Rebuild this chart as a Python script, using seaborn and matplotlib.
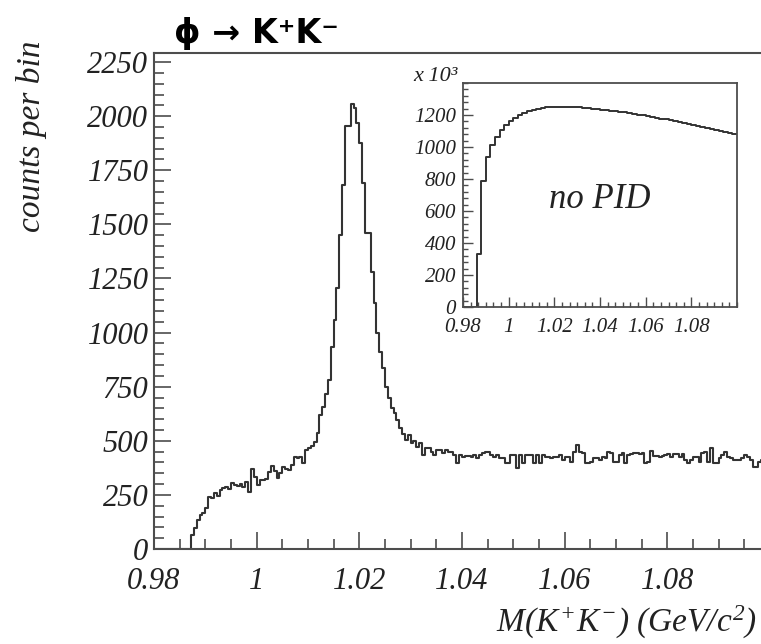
import numpy as np
import pandas as pd
import matplotlib
matplotlib.use("Agg")
import matplotlib.pyplot as plt
import seaborn as sns
from matplotlib.ticker import FixedLocator, MultipleLocator

# ---------------- data ----------------
# main histogram: 216 bins between 0.98 and 1.10 GeV
main_range = (0.98, 1.10)
main_nbins = 216
counts_below = [0] * 13
counts_rise = [65, 96, 134, 157, 168, 188, 242, 235, 259, 245,
               272, 282, 285, 276, 303, 296, 291, 299, 285, 311,
               265, 368, 334, 296, 319, 319, 325, 357, 383, 362,
               327, 350, 377, 368, 365, 388, 424, 422, 426, 396,
               457, 465, 476, 496, 534, 619, 657, 716]
counts_peak = [781, 935, 1058, 1204, 1451, 1682, 1954, 1954, 2055, 2040,
               1970, 1874, 1690, 1458, 1458, 1281, 1135, 997, 912, 835,
               750, 696, 650, 627, 596, 558]
counts_tail_a = [530, 505, 525, 490, 500, 470]
counts_tail_b = [488, 434, 465, 465, 446, 434, 457, 457, 442, 457,
                 450, 450, 434, 396, 434, 427, 430, 430, 427, 434,
                 419, 434, 442, 450, 450, 434, 427, 434, 419, 419,
                 396, 396, 434, 434, 373, 434, 396, 434, 434, 434,
                 396, 434, 396, 434, 427, 427, 419, 427, 427, 434,
                 411, 427, 427, 404, 450, 481, 450, 442, 396, 396]
counts_tail_c = [404, 419, 419, 411, 427, 419, 450, 442, 404, 404,
                 434, 442, 396, 434, 439, 442, 442, 439, 445, 396,
                 404, 454, 430, 430, 427, 430, 434, 439, 427, 439,
                 439, 427, 439, 411, 396, 411, 427, 427, 404, 442,
                 450, 404, 465, 396, 396, 419, 434, 450, 427, 419,
                 411, 411, 411, 419, 434, 427, 411, 380, 380, 404]
counts_tail_d = [410, 425, 415]

# inset histogram (no PID), units of 10^3, 60 bins between 0.98 and 1.10
inset_range = (0.98, 1.10)
inset_counts = [0, 0, 0, 330, 790, 940, 1015, 1065, 1105, 1135,
                1160, 1180, 1197, 1211, 1223, 1232, 1239, 1245, 1249, 1251,
                1252, 1253, 1252, 1251, 1250, 1248, 1246, 1243, 1240, 1237,
                1234, 1231, 1228, 1225, 1220, 1216, 1212, 1208, 1203, 1198,
                1194, 1189, 1183, 1178, 1172, 1166, 1160, 1154, 1148, 1142,
                1136, 1130, 1124, 1118, 1112, 1106, 1100, 1094, 1088, 1082]

main_xticks = [0.98, 1.00, 1.02, 1.04, 1.06, 1.08]
main_xticklabels = ["0.98", "1", "1.02", "1.04", "1.06", "1.08"]
main_yticks = [0, 250, 500, 750, 1000, 1250, 1500, 1750, 2000, 2250]
inset_xticks = [0.98, 1.00, 1.02, 1.04, 1.06, 1.08]
inset_xticklabels = ["0.98", "1", "1.02", "1.04", "1.06", "1.08"]
inset_yticks = [0, 200, 400, 600, 800, 1000, 1200]

# ---------------- style ----------------
sns.set_style("ticks")
plt.rcParams["font.family"] = ["Liberation Serif", "DejaVu Serif"]
plt.rcParams["font.style"] = "italic"
plt.rcParams["mathtext.fontset"] = "custom"
plt.rcParams["mathtext.it"] = "Liberation Serif:italic"
plt.rcParams["mathtext.rm"] = "Liberation Serif:italic"
plt.rcParams["mathtext.default"] = "it"

line_col = "#333333"
spine_col = "#4d4d4d"
text_col = "#222222"

W, H = 761, 644
fig = plt.figure(figsize=(W / 100, H / 100), dpi=100)
fig.patch.set_facecolor("white")

# ---------------- main axes ----------------
ax = fig.add_axes([154 / W, (H - 549) / H, (W - 154) / W, (549 - 53) / H])
main_counts = np.concatenate([counts_below, counts_rise, counts_peak, counts_tail_a,
                              counts_tail_b, counts_tail_c, counts_tail_d]).astype(float)
edges = np.linspace(main_range[0], main_range[1], main_nbins + 1)
centers = 0.5 * (edges[:-1] + edges[1:])
df_main = pd.DataFrame({"mass": centers, "counts": main_counts})
sns.histplot(data=df_main, x="mass", weights="counts", bins=main_nbins,
             binrange=main_range, element="step",
             fill=False, color=line_col, linewidth=1.5, ax=ax)

ax.set_xlim(0.98, 0.98 + (W - 154) / 102.65 * 0.02)
ax.set_ylim(0, 2292)
ax.set_xlabel("")
ax.set_ylabel("")
for s in ["left", "bottom", "top"]:
    ax.spines[s].set_color(spine_col)
    ax.spines[s].set_linewidth(1.5)
ax.spines["right"].set_visible(False)

ax.xaxis.set_major_locator(FixedLocator(main_xticks))
ax.set_xticklabels(main_xticklabels)
ax.xaxis.set_minor_locator(MultipleLocator(0.005))
ax.yaxis.set_major_locator(FixedLocator(main_yticks))
ax.yaxis.set_minor_locator(MultipleLocator(50))
ax.tick_params(which="both", direction="in", top=False, right=False,
               color=spine_col, width=1.2, labelcolor=text_col)
ax.tick_params(which="major", length=12, labelsize=22)
ax.tick_params(which="minor", length=7)
ax.tick_params(axis="x", which="major", pad=13)
ax.tick_params(axis="y", which="major", pad=4)

# ---------------- inset ----------------
ax_in = fig.add_axes([463 / W, (H - 307) / H, (737 - 463) / W, (307 - 83) / H])
in_nbins = len(inset_counts)
in_edges = np.linspace(inset_range[0], inset_range[1], in_nbins + 1)
in_centers = 0.5 * (in_edges[:-1] + in_edges[1:])
df_in = pd.DataFrame({"mass": in_centers, "counts": np.array(inset_counts, float)})
sns.histplot(data=df_in, x="mass", weights="counts", bins=in_nbins,
             binrange=inset_range, element="step",
             fill=False, color=line_col, linewidth=1.4, ax=ax_in)
ax_in.set_xlim(inset_range)
ax_in.set_ylim(0, 1400)
ax_in.set_xlabel("")
ax_in.set_ylabel("")
for s in ax_in.spines.values():
    s.set_visible(True)
    s.set_color(spine_col)
    s.set_linewidth(1.3)
ax_in.xaxis.set_major_locator(FixedLocator(inset_xticks))
ax_in.set_xticklabels(inset_xticklabels)
ax_in.xaxis.set_minor_locator(MultipleLocator(0.02 / 6))
ax_in.yaxis.set_major_locator(FixedLocator(inset_yticks))
ax_in.yaxis.set_minor_locator(MultipleLocator(40))
ax_in.tick_params(which="both", direction="in", top=False, right=False,
                  color=spine_col, width=1.0, labelcolor=text_col)
ax_in.tick_params(which="major", length=7, labelsize=15)
ax_in.tick_params(which="minor", length=3.5)
ax_in.tick_params(axis="x", which="major", pad=8)
ax_in.tick_params(axis="y", which="major", pad=5)
ax_in.text(0.5, 0.478, "no PID", transform=ax_in.transAxes, ha="center", va="center",
           fontsize=25, color=text_col)
fig.text(413 / W, 1 - 81 / H, "x 10³", fontsize=16, color=text_col, va="baseline")

# ---------------- labels ----------------
fig.text(174 / W, 1 - 43 / H, "ϕ → K⁺K⁻", fontsize=24, fontweight="bold",
         fontstyle="normal", family=["DejaVu Sans"], color="black",
         va="baseline", ha="left")
fig.text(32 / W, 1 - 40 / H, "counts per bin", rotation=90, ha="center", va="top",
         fontsize=24, color=text_col)
fig.text(757 / W, 1 - 632 / H, r"$M(K^{+}K^{-})\ (GeV/c^{2})$", ha="right",
         va="baseline", fontsize=24, color=text_col)

fig.savefig("out.png", dpi=100, facecolor="white")
